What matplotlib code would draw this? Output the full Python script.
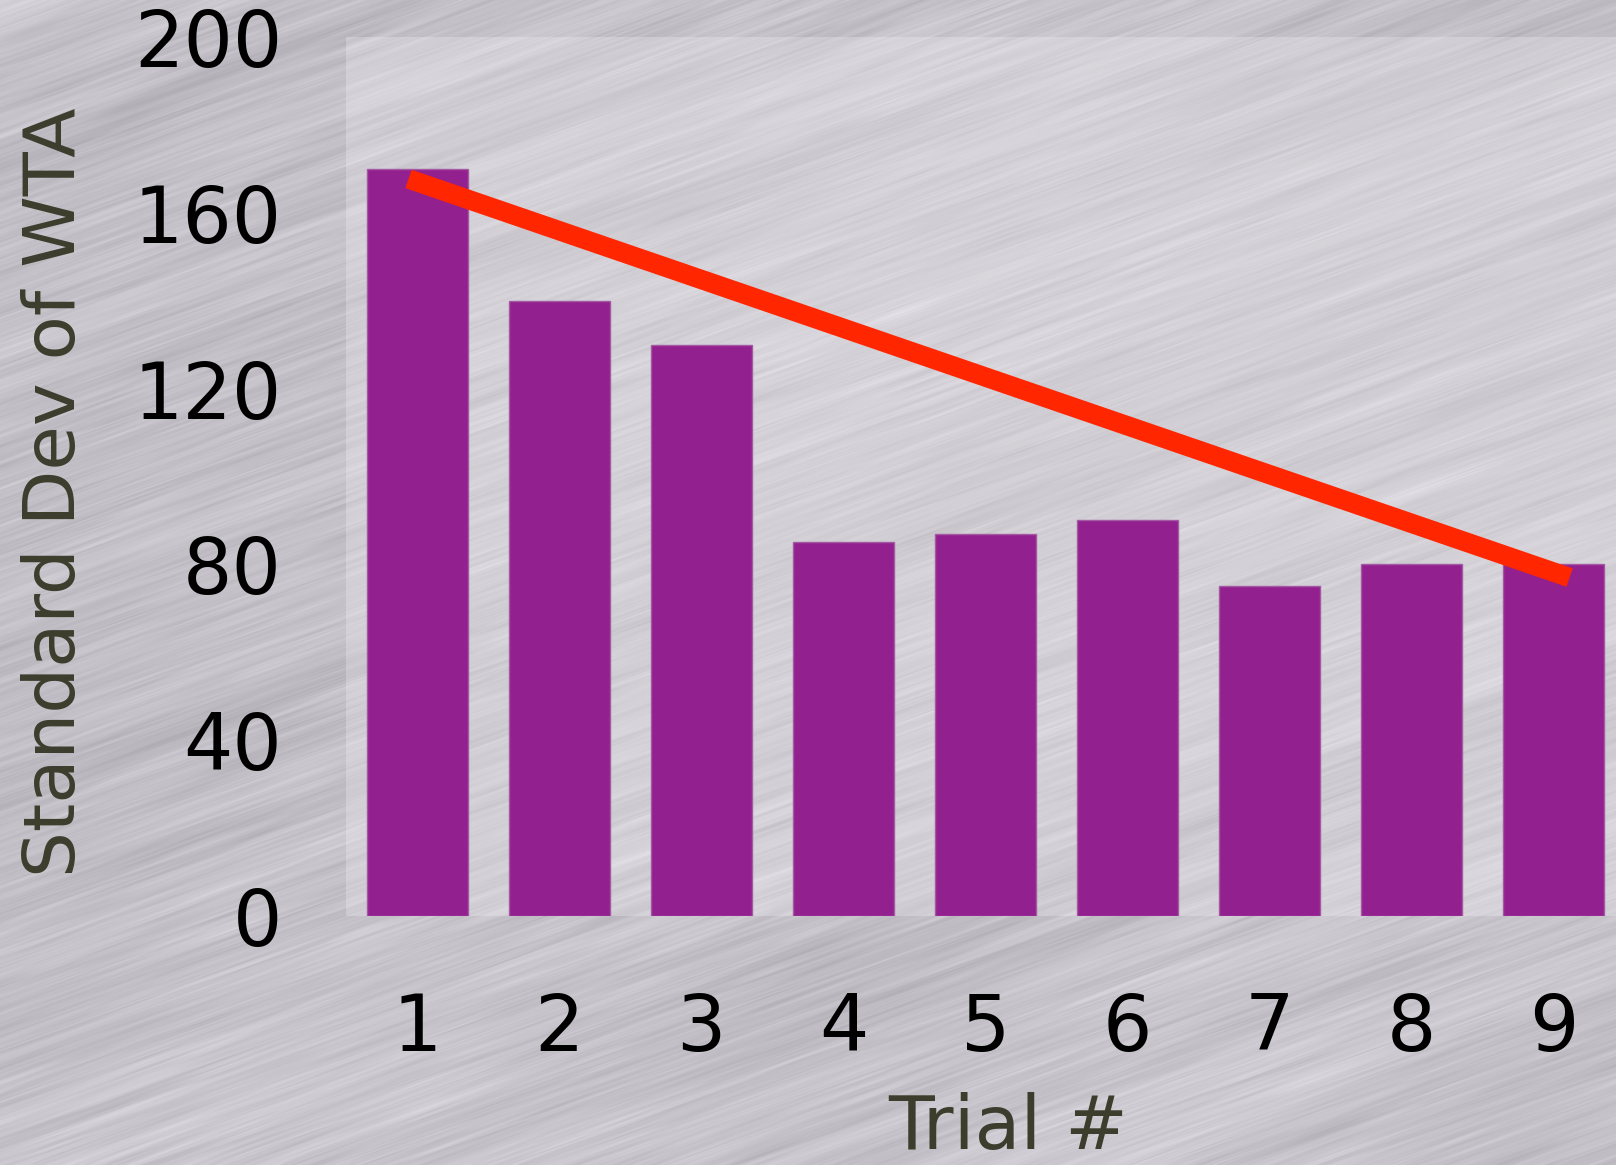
import numpy as np
import matplotlib
matplotlib.use('Agg')
import matplotlib.pyplot as plt

# standard deviation of WTA per trial
trials = [1, 2, 3, 4, 5, 6, 7, 8, 9]
std_wta = [170, 140, 130, 85, 87, 90, 75, 80, 80]
tick_labels = ['1', '2', '3', '4', '5', '6', '7', '8', '9']
y_ticks = [0, 40, 80, 120, 160, 200]

# hand-drawn trend line (end points in data units)
trend_x = [0.94, 9.11]
trend_y = [167.7, 77.0]

W, H = 1616, 1165


def brushed_metal(w, h, seed=7):
    # long thin streaks rising to the right, like brushed steel
    rng = np.random.default_rng(seed)
    th = np.deg2rad(20)
    yy, xx = np.mgrid[0:h, 0:w].astype(float)
    u = xx * np.cos(th) - yy * np.sin(th)
    v = yy * np.cos(th) + xx * np.sin(th)
    u -= u.min()
    v -= v.min()

    def layer(su, sv, amp):
        nu = int(u.max() / su) + 3
        nv = int(v.max() / sv) + 3
        g = rng.standard_normal((nv, nu))
        fu = u / su
        fv = v / sv
        i0 = np.floor(fv).astype(int)
        j0 = np.floor(fu).astype(int)
        a = fv - i0
        b = fu - j0
        b = b * b * (3 - 2 * b)
        out = (g[i0, j0] * (1 - a) * (1 - b) + g[i0 + 1, j0] * a * (1 - b)
               + g[i0, j0 + 1] * (1 - a) * b + g[i0 + 1, j0 + 1] * a * b)
        return amp * out

    t = layer(60, 1.5, 4) + layer(140, 3.5, 4) + layer(400, 16, 4) + layer(900, 70, 4)
    base = np.array([197, 195, 201], dtype=float)
    img = base[None, None, :] + t[..., None]
    return np.clip(img, 0, 255).astype(np.uint8)


fig = plt.figure(figsize=(W / 100, H / 100), dpi=100)

bg = fig.add_axes([0, 0, 1, 1], zorder=-5)
bg.imshow(brushed_metal(W, H), aspect='auto', interpolation='bilinear')
bg.axis('off')

ax = fig.add_axes([346 / W, 1 - 916 / H, 1279 / W, 879 / H])
ax.set_facecolor((1.0, 0.97, 1.0, 0.25))

ax.bar(trials, std_wta, width=0.71, color='#93208f', edgecolor='#a45aa3', linewidth=1)
ax.plot(trend_x, trend_y, color='#ff2600', lw=14, solid_capstyle='butt')

ax.set_xlim(0.5, 9.5)
ax.set_ylim(0, 200)
ax.set_xticks(trials)
ax.set_xticklabels(tick_labels)
ax.set_yticks(y_ticks)
for s in ax.spines.values():
    s.set_visible(False)
ax.tick_params(axis='both', length=0, labelsize=56, colors='black')
ax.tick_params(axis='y', pad=46)
ax.tick_params(axis='x', pad=54)

lab_color = '#3c3d2d'
ax.set_ylabel('Standard Dev of WTA', fontsize=52, color=lab_color, va='center', ha='center')
ax.yaxis.set_label_coords((56 - 346) / 1279, (916 - 492) / 879)
ax.set_xlabel('Trial #', fontsize=54, color=lab_color, va='top')
ax.xaxis.set_label_coords((1008 - 346) / 1279, (916 - 1092) / 879)

fig.savefig('out.png', dpi=100)
